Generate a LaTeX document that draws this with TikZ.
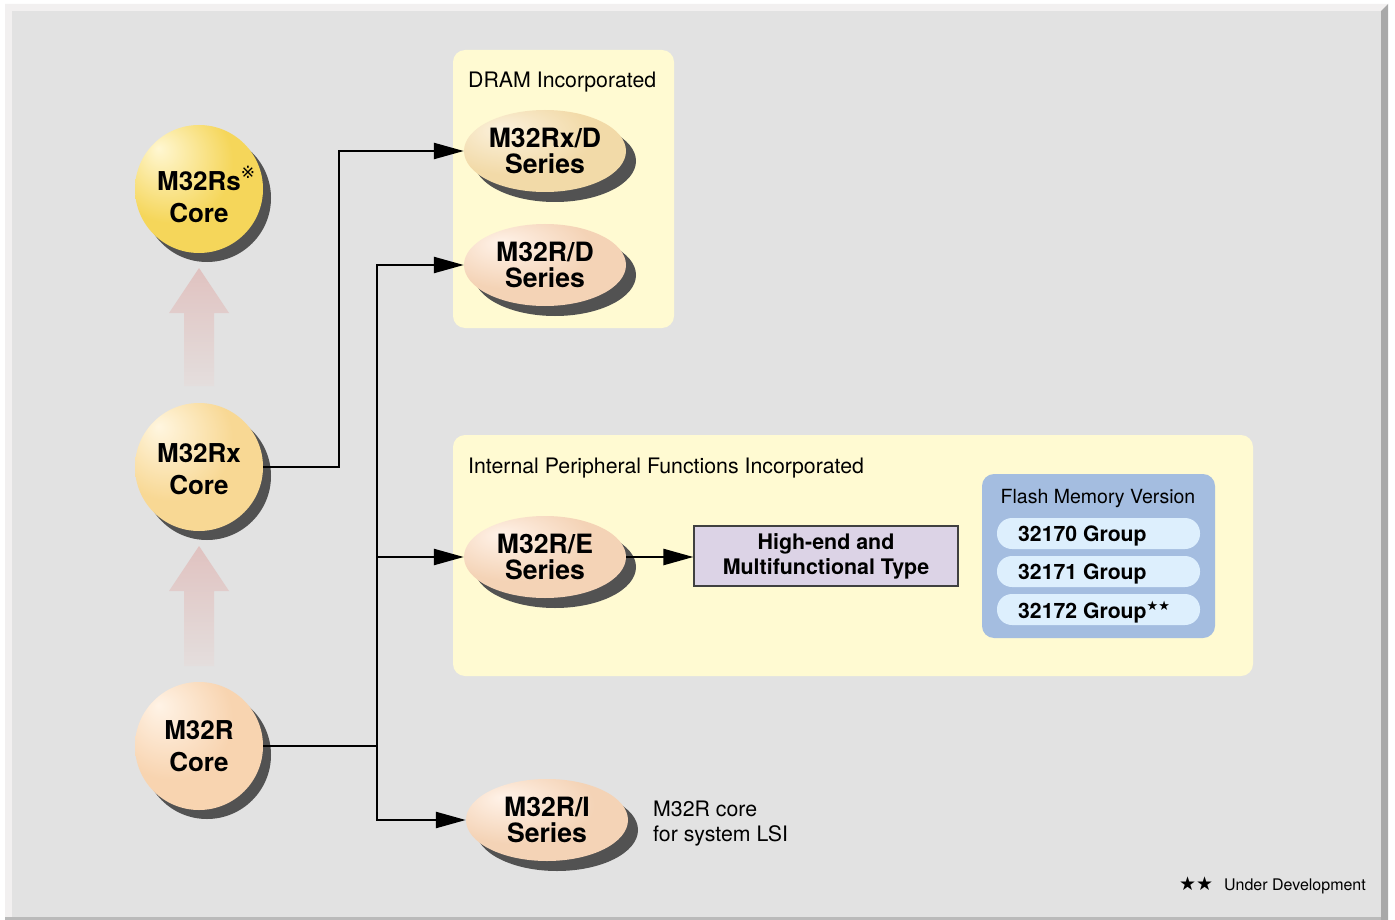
\documentclass[tikz,border=0pt]{standalone}
\usepackage{fontspec}
\setmainfont{TeX Gyre Heros}
\newfontfamily\symf{DejaVu Sans}
\usetikzlibrary{shapes.geometric,arrows.meta,shadows}
\definecolor{bgmain}{HTML}{E2E2E2}
\definecolor{bglight}{HTML}{F2F0F0}
\definecolor{bevel}{HTML}{A9A9A9}
\definecolor{panelY}{HTML}{FFFAD2}
\definecolor{flashB}{HTML}{A4BDE0}
\definecolor{pillB}{HTML}{DDEFFD}
\definecolor{boxL}{HTML}{DCD3E6}
\definecolor{shadowc}{HTML}{525252}
\definecolor{arrowP}{HTML}{E0C2C0}
\definecolor{arrowE}{HTML}{E4DEDD}
% sphere / ellipse colours
\definecolor{sShi}{HTML}{FFF7D2}\definecolor{sSmid}{HTML}{F5D65A}\definecolor{sSedge}{HTML}{E6C145}
\definecolor{sXhi}{HTML}{FFF6E0}\definecolor{sXmid}{HTML}{F8D894}\definecolor{sXedge}{HTML}{ECC478}
\definecolor{sRhi}{HTML}{FFF3E6}\definecolor{sRmid}{HTML}{F8D4B0}\definecolor{sRedge}{HTML}{EDC197}
\definecolor{eThi}{HTML}{FBF1DC}\definecolor{eTmid}{HTML}{F2DAA8}\definecolor{eTedge}{HTML}{E6C68C}
\definecolor{ePhi}{HTML}{FFF2E8}\definecolor{ePmid}{HTML}{F4D3B6}\definecolor{ePedge}{HTML}{E8BF9C}
\pgfdeclareradialshading{shS}{\pgfpoint{-16bp}{16bp}}{color(0bp)=(sShi);color(24bp)=(sSmid);color(50bp)=(sSmid);color(72bp)=(sSedge)}
\pgfdeclareradialshading{shX}{\pgfpoint{-16bp}{16bp}}{color(0bp)=(sXhi);color(24bp)=(sXmid);color(50bp)=(sXmid);color(72bp)=(sXedge)}
\pgfdeclareradialshading{shR}{\pgfpoint{-16bp}{16bp}}{color(0bp)=(sRhi);color(24bp)=(sRmid);color(50bp)=(sRmid);color(72bp)=(sRedge)}
\pgfdeclareradialshading{shT}{\pgfpoint{-14bp}{14bp}}{color(0bp)=(eThi);color(24bp)=(eTmid);color(50bp)=(eTmid);color(70bp)=(eTedge)}
\pgfdeclareradialshading{shP}{\pgfpoint{-14bp}{14bp}}{color(0bp)=(ePhi);color(24bp)=(ePmid);color(50bp)=(ePmid);color(70bp)=(ePedge)}
\begin{document}
\begin{tikzpicture}[x=1pt,y=-1pt,
  sphere/.style={circle, minimum size=128pt, inner sep=0pt, align=center,
     font=\bfseries\fontsize{26}{32}\selectfont,
     general shadow={fill=shadowc, shadow xshift=8pt, shadow yshift=-9pt}},
  egg/.style={ellipse, minimum width=162pt, minimum height=82pt, inner sep=0pt, align=center,
     font=\bfseries\fontsize{26.6}{26.5}\selectfont,
     general shadow={fill=shadowc, shadow xshift=10pt, shadow yshift=-10pt}},
  link/.style={line width=2.4pt},
  conn/.style={line width=2.4pt, -{Triangle[length=30pt,width=16pt]}},
  lbl/.style={font=\fontsize{21.3}{25}\selectfont, inner sep=0pt},
  pill/.style={fill=pillB, rounded corners=15pt},
  grp/.style={font=\bfseries\fontsize{21.2}{24}\selectfont, inner sep=0pt, anchor=west},
  hbox/.style={draw=black!75, line width=1.2pt, fill=boxL, minimum width=264pt, minimum height=60pt,
     align=center, font=\bfseries\fontsize{21.4}{25}\selectfont},
  panel/.style={fill=panelY, rounded corners=12pt},
  uparrow/.style={top color=arrowP, bottom color=arrowE},
]
% frame
\fill[white] (0,0) rectangle (1395,920);
\fill[bglight] (5,4) -- (1388,4) -- (1381,11) -- (12,11) -- (12,917) -- (5,917) -- cycle;
\fill[bgmain] (12,11) rectangle (1381,917);
\fill[bevel] (1381,11) -- (1388,4) -- (1388,920) -- (1381,920) -- cycle;
\fill[bevel!80] (5,917) rectangle (1381,920);

% panels
\fill[panel] (453,50) rectangle (674,328);
\fill[panel] (453,435) rectangle (1253,676);
\fill[flashB, rounded corners=12pt] (982,474) rectangle (1215,638);
\fill[pill] (997,518) rectangle (1200,549);
\fill[pill] (997,556) rectangle (1200,587);
\fill[pill] (997,594) rectangle (1200,625);

% faint upward arrows
\shade[uparrow] (199,268) -- (229,313) -- (214,313) -- (214,386) -- (184,386) -- (184,313) -- (169,313) -- cycle;
\shade[uparrow] (199,546) -- (229,591) -- (214,591) -- (214,666) -- (184,666) -- (184,591) -- (169,591) -- cycle;

% cores
\node[sphere, shading=shS] (rs) at (199,189) {\rule{0pt}{34.5pt}M32Rs\rlap{\raisebox{12pt}{\symf\mdseries\fontsize{17}{17}\selectfont ※}}\\Core};
\node[sphere, shading=shX] (rx) at (199,467) {\rule{0pt}{22.5pt}M32Rx\\Core};
\node[sphere, shading=shR] (r) at (199,746) {M32R\\Core};

% series
\node[egg, shading=shT] (rxd) at (545,151) {M32Rx/D\\Series};
\node[egg, shading=shP] (rd) at (545,265) {M32R/D\\Series};
\node[egg, shading=shP] (re) at (545,557) {M32R/E\\Series};
\node[egg, shading=shP] (ri) at (547,820) {M32R/I\\Series};

\node[hbox] (hb) at (826,556) {High-end and\\Multifunctional Type};

% labels
\node[lbl, anchor=west] (tdram) at (468,82) {DRAM Incorporated};
\node[lbl, anchor=west] (tint) at (468,468) {Internal Peripheral Functions Incorporated};
\node[lbl, anchor=west, align=left] (tlsi) at (653,824) {M32R core\\for system LSI};
\node[font=\fontsize{19.5}{22}\selectfont, inner sep=0pt] (tfl) at (1098,499) {Flash Memory Version};
\node[grp] (g0) at (1018,536) {32170 Group};
\node[grp] (g1) at (1018,574) {32171 Group};
\node[grp] (g2) at (1018,612) {32172 Group\raisebox{8pt}{\symf\mdseries\fontsize{13}{13}\selectfont ★★}};
\node[font=\fontsize{16}{18}\selectfont, inner sep=0pt, anchor=east] (note) at (1366,885)
  {{\symf\fontsize{19}{19}\selectfont ★★}\hspace{11pt}Under Development};

% connectors
\draw[conn] (rx.east) -- ++(76,0) |- (rxd.west);
\draw[link] (r.east) -- ++(114,0) coordinate (j);
\draw[conn] (j) |- (rd.west);
\draw[conn] (j) |- (re.west);
\draw[conn] (j) |- (ri.west);
\draw[conn] (re.east) -- (re.east -| hb.west);
\end{tikzpicture}
\end{document}
